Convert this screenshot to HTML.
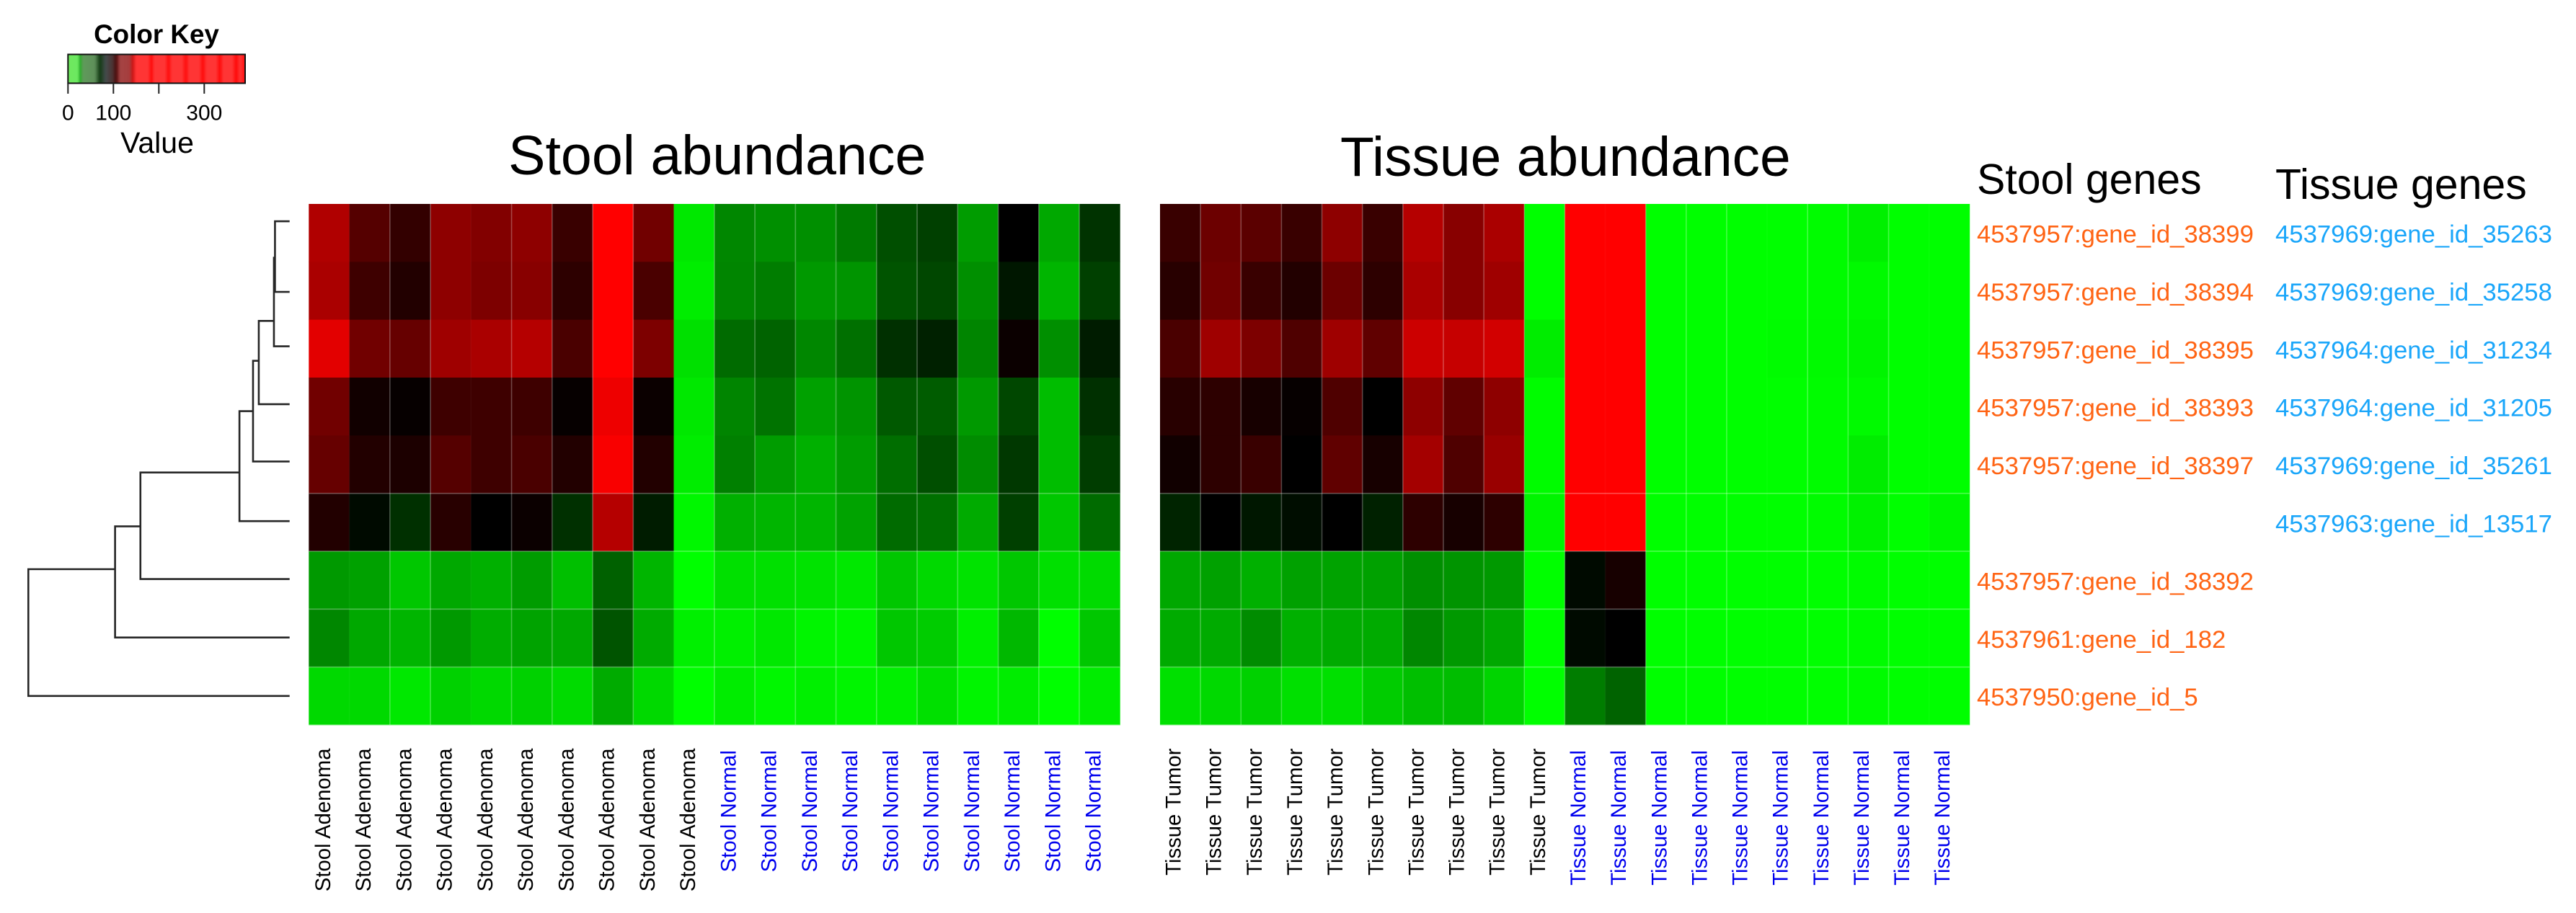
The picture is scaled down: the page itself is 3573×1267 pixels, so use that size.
<!DOCTYPE html>
<html lang="en">
<head>
<meta charset="utf-8">
<title>Stool and tissue abundance heatmaps</title>
<style>
html,body{margin:0;padding:0;background:#fff;width:3573px;height:1267px;overflow:hidden}
svg{display:block}
text{font-family:"Liberation Sans",sans-serif}
</style>
</head>
<body>
<svg id="chart" xmlns="http://www.w3.org/2000/svg" width="3573" height="1267" viewBox="0 0 3573 1267">
  <rect x="0" y="0" width="3573" height="1267" fill="#fff"/>
  <text x="217" y="60" text-anchor="middle" font-size="36.8" font-weight="700">Color Key</text>
  <text x="218" y="212" text-anchor="middle" font-size="41">Value</text>
  <text x="705" y="242" font-size="77.2">Stool abundance</text>
  <text x="1859" y="244" font-size="76.8">Tissue abundance</text>
  <text x="2742" y="269" font-size="59">Stool genes</text>
  <text x="3156" y="276" font-size="59">Tissue genes</text>
  <defs>
    <linearGradient id="key-gradient" gradientUnits="userSpaceOnUse" x1="94.3" x2="340" y1="0" y2="0"></linearGradient>
    <filter id="key-blur" x="-5%" y="-5%" width="110%" height="110%"><feGaussianBlur stdDeviation="1.4 0"/></filter>
    <clipPath id="key-clip"><rect x="94.3" y="75.5" width="245.7" height="40"/></clipPath>
  </defs>
  <g id="key"></g>
  <g id="dendrogram"></g>
  <g id="stool-heatmap"></g>
  <g id="tissue-heatmap"></g>
  <g id="stool-col-labels"></g>
  <g id="tissue-col-labels"></g>
  <g id="stool-gene-labels"></g>
  <g id="tissue-gene-labels"></g>
</svg>
<script>
// ---- Data ----
const stoolValues = [
  [131,115,109,125,123,125,110,300,120, 9,47,44,44,52,69,75,39,100,34,80],
  [130,111,106,125,122,124,108,300,113, 7,48,51,40,42,67,72,44,91,29,75],
  [140,120,118,128,130,132,113,320,122, 12,58,61,47,56,81,87,48,102,44,89],
  [120,103,101,111,111,111,101,142,102, 9,48,55,37,42,65,64,40,72,26,81],
  [118,106,105,115,111,113,106,144,106, 7,50,39,31,39,57,69,45,78,26,76],
  [106,96,81,107,100,102,81,132,89, 3,31,29,29,36,58,56,33,75,22,58],
  [40,37,22,34,31,39,25,62,29, 0,12,12,11,9,22,15,11,22,12,14],
  [47,34,29,40,32,36,34,67,33, 6,6,9,4,3,22,20,6,28,0,22],
  [15,15,9,18,15,18,14,33,15, 0,7,3,6,4,6,12,4,7,0,7]
];
const tissueValues = [
  [110,119,116,110,125,110,132,124,130, 0,380,380, 0,0,0,0,1,6,0,0],
  [107,120,110,106,119,108,130,124,128, 0,380,380, 0,0,0,0,1,2,0,0],
  [113,128,122,114,128,117,136,135,137, 7,380,380, 0,0,0,1,2,4,0,0],
  [107,108,104,101,114,100,125,117,125, 1,360,360, 0,0,0,0,1,2,0,0],
  [103,108,110,100,117,104,129,114,127, 1,350,350, 0,0,0,0,1,7,0,0],
  [86,100,91,95,100,87,108,104,108, 4,300,300, 0,0,0,0,1,5,0,3],
  [34,37,31,37,36,37,44,42,40, 0,96,104, 0,0,0,0,0,1,0,0],
  [33,33,45,31,33,33,47,40,34, 0,96,100, 0,0,0,0,0,1,0,0],
  [12,15,18,12,12,20,25,26,17, 0,51,61, 0,0,0,0,0,1,0,0]
];
const stoolColumns = ["Stool Adenoma","Stool Adenoma","Stool Adenoma","Stool Adenoma","Stool Adenoma","Stool Adenoma","Stool Adenoma","Stool Adenoma","Stool Adenoma","Stool Adenoma","Stool Normal","Stool Normal","Stool Normal","Stool Normal","Stool Normal","Stool Normal","Stool Normal","Stool Normal","Stool Normal","Stool Normal"];
const tissueColumns = ["Tissue Tumor","Tissue Tumor","Tissue Tumor","Tissue Tumor","Tissue Tumor","Tissue Tumor","Tissue Tumor","Tissue Tumor","Tissue Tumor","Tissue Tumor","Tissue Normal","Tissue Normal","Tissue Normal","Tissue Normal","Tissue Normal","Tissue Normal","Tissue Normal","Tissue Normal","Tissue Normal","Tissue Normal"];
const stoolGenes = ["4537957:gene_id_38399","4537957:gene_id_38394","4537957:gene_id_38395","4537957:gene_id_38393","4537957:gene_id_38397","","4537957:gene_id_38392","4537961:gene_id_182","4537950:gene_id_5"];
const tissueGenes = ["4537969:gene_id_35263","4537969:gene_id_35258","4537964:gene_id_31234","4537964:gene_id_31205","4537969:gene_id_35261","4537963:gene_id_13517"];
const keyTicks = [0,100,200,300];
const keyTickLabels = ["0","100","","300"];
const keyValues = [0,22,26,33,59,70,83,99,106,115,136,142,150,176,184,190,214,221,229,252,259,267,289,297,305,326,334,342,362,370,379,390];
const keyColors = ["#6fe85f","#6ce860","#1fae1f","#5f9a5a","#5e8f5a","#123a12","#444c4c","#4c3030","#4a0505","#a54545","#a53c3c","#c81010","#ff3535","#ff3535","#ff0505","#ff3535","#ff3535","#ff0505","#ff3535","#ff3535","#ff0505","#ff3535","#ff3535","#ff0505","#ff3535","#ff3535","#ff0505","#ff3535","#ff3535","#ff0505","#ff3535","#ff0a0a"];
// Column boundaries whose separator barely shows in the reference.
const stoolFaintBoundaries = [1,4,9];
const tissueFaintBoundaries = [11,15,19];
// Dendrogram: leaves are given by their row position, merges by height and row position.
const leafRows = [0.30,1.52,2.46,3.46,4.45,5.48,6.48,7.49,8.50];
const mergeHeights = [5.6,6.0,11.8,14.0,19.2,57.1,66.8,100];
const mergeRows = [0.93,2.02,2.71,3.58,4.64,5.57,6.31,7.40];
const mergeLeft = ["L0","M0","M1","M2","M3","M4","M5","M6"];
const mergeRight = ["L1","L2","L3","L4","L5","L6","L7","L8"];

// ---- Scales ----
const NS = "http://www.w3.org/2000/svg";
const ROW_TOP = 283, ROW_H = 80.33;
const yRow = r => ROW_TOP + r * ROW_H;
const xStool = c => 428.3 + c * 56.25;
const xTissue = c => 1609 + c * 56.14;
const xKey = v => 94.3 + v * 0.63;
const xDendro = h => 401.7 - h * 3.624;
function heatColor(v) {
  if (v <= 100) {
    const g = Math.round(255 * (1 - Math.max(v, 0) / 100));
    return "rgb(0," + g + ",0)";
  }
  const r = Math.min(255, Math.round((v - 100) / 45 * 255));
  return "rgb(" + r + ",0,0)";
}
function make(tag, attrs, parent) {
  const el = document.createElementNS(NS, tag);
  for (const k in attrs) el.setAttribute(k, attrs[k]);
  parent.appendChild(el);
  return el;
}

// ---- Color key ----
const keyGroup = document.getElementById("key");
const grad = document.getElementById("key-gradient");
keyValues.forEach((v, i) => {
  make("stop", {offset: (v / keyValues[keyValues.length - 1] * 100) + "%", "stop-color": keyColors[i]}, grad);
});
const keyClip = make("g", {"clip-path": "url(#key-clip)"}, keyGroup);
const keyBar = make("rect", {x: xKey(0) - 8, y: 70, width: 262, height: 50, fill: "url(#key-gradient)", filter: "url(#key-blur)"}, keyClip);


const keyBorder = make("rect", {x: xKey(0), y: 75.5, width: 245.7, height: 40, fill: "none", stroke: "#111", "stroke-width": 2}, keyGroup);


keyTicks.forEach((t, i) => {
  const tick = make("line", {x1: xKey(t), x2: xKey(t), y1: 115, y2: 130, stroke: "#222", "stroke-width": 2}, keyGroup);
  
  
  if (keyTickLabels[i]) {
    const lab = make("text", {x: xKey(t), y: 166.5, "text-anchor": "middle", "font-size": 30}, keyGroup);
    lab.textContent = keyTickLabels[i];
    
    
  }
});

// ---- Dendrogram ----
const dendro = document.getElementById("dendrogram");
function nodeRow(id) {
  const idx = +id.slice(1);
  return id[0] === "L" ? leafRows[idx] : mergeRows[idx];
}
function nodeHeight(id) {
  const idx = +id.slice(1);
  return id[0] === "L" ? 0 : mergeHeights[idx];
}
mergeHeights.forEach((h, i) => {
  const a = mergeLeft[i], b = mergeRight[i];
  const d = "M" + xDendro(nodeHeight(a)) + " " + yRow(nodeRow(a)) +
            "H" + xDendro(h) + "V" + yRow(nodeRow(b)) +
            "H" + xDendro(nodeHeight(b));
  const branch = make("path", {d: d, fill: "none", stroke: "#262626", "stroke-width": 2.6}, dendro);
  
  
});

// ---- Heatmaps ----
function drawHeatmap(groupId, values, xScale, cellW, faint) {
  const g = document.getElementById(groupId);
  values.forEach((row, r) => {
    row.forEach((v, c) => {
      const cell = make("rect", {x: xScale(c), y: yRow(r), width: cellW + 0.4, height: ROW_H + 0.4, fill: heatColor(v)}, g);
      
      
    });
  });
  const nRows = values.length, nCols = values[0].length;
  for (let r = 5; r <= nRows; r++) {
    const hLine = make("line", {x1: xScale(0), x2: xScale(nCols), y1: yRow(r), y2: yRow(r), stroke: "rgba(255,255,255,0.3)", "stroke-width": 1.6}, g);
    
    
  }
  for (let c = 1; c < nCols; c++) {
    const alpha = faint.indexOf(c) >= 0 ? 0.03 : 0.27;
    const vLine = make("line", {x1: xScale(c), x2: xScale(c), y1: yRow(0), y2: yRow(nRows), stroke: "rgba(255,255,255," + alpha + ")", "stroke-width": 1.6}, g);
    
    
  }
}
drawHeatmap("stool-heatmap", stoolValues, xStool, 56.25, stoolFaintBoundaries);
drawHeatmap("tissue-heatmap", tissueValues, xTissue, 56.14, tissueFaintBoundaries);

// ---- Column labels ----
function drawColumnLabels(groupId, labels, xScale, cellW, shift) {
  const g = document.getElementById(groupId);
  labels.forEach((name, c) => {
    const isNormal = name.indexOf("Normal") >= 0;
    const top = isNormal ? 1041 : 1038.5;
    const bx = xScale(c) + cellW / 2 + shift;
    const t = make("text", {
      transform: "translate(" + bx + " " + top + ") rotate(-90)",
      "text-anchor": "end",
      "font-size": 29.3,
      fill: isNormal ? "#0000ee" : "#000"
    }, g);
    t.textContent = name;
    
    
  });
}
drawColumnLabels("stool-col-labels", stoolColumns, xStool, 56.25, 1.5);
drawColumnLabels("tissue-col-labels", tissueColumns, xTissue, 56.14, 0.5);

// ---- Gene labels ----
function drawGeneLabels(groupId, labels, x, color) {
  const g = document.getElementById(groupId);
  labels.forEach((name, r) => {
    if (!name) return;
    const t = make("text", {x: x, y: yRow(r) + 53.6, "font-size": 34.7, fill: color}, g);
    t.textContent = name;
    
    
  });
}
drawGeneLabels("stool-gene-labels", stoolGenes, 2742, "#ff6414");
drawGeneLabels("tissue-gene-labels", tissueGenes, 3156, "#1aa6fa");
</script>
</body>
</html>
